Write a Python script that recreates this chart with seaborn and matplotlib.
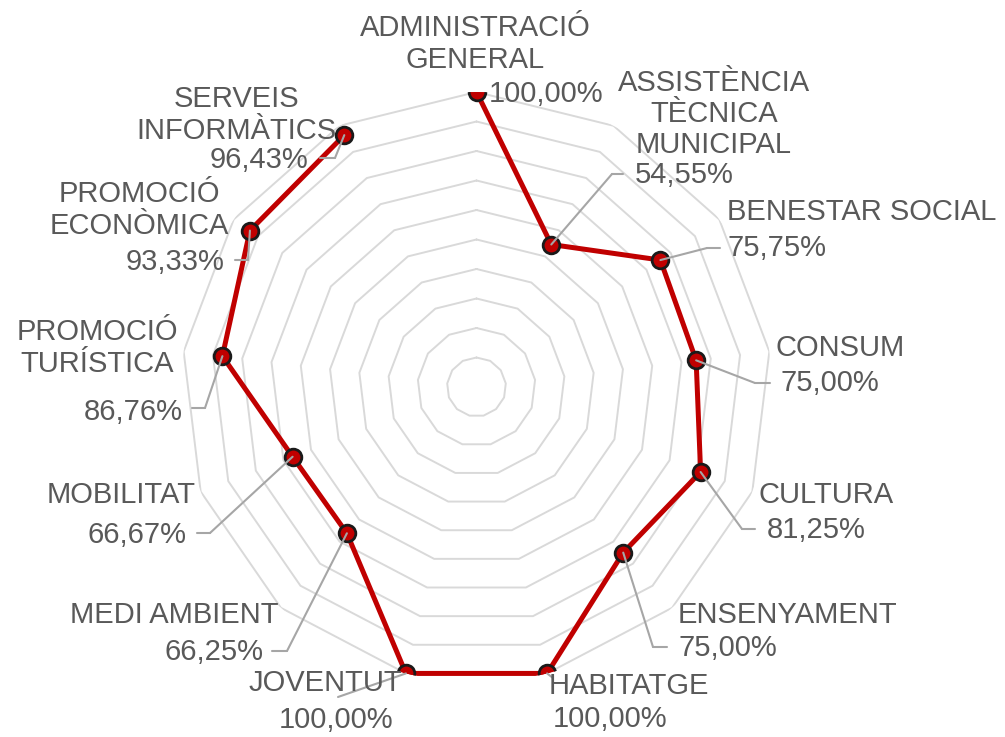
import numpy as np
import pandas as pd
import matplotlib
matplotlib.use('Agg')
import matplotlib.pyplot as plt
from matplotlib.lines import Line2D
import seaborn as sns

sns.set_style('white')
plt.rcParams['font.family'] = ['Liberation Sans', 'DejaVu Sans']

# data
categories = ['ADMINISTRACIÓ\nGENERAL', 'ASSISTÈNCIA\nTÈCNICA\nMUNICIPAL',
              'BENESTAR SOCIAL', 'CONSUM', 'CULTURA', 'ENSENYAMENT',
              'HABITATGE', 'JOVENTUT', 'MEDI AMBIENT', 'MOBILITAT',
              'PROMOCIÓ\nTURÍSTICA', 'PROMOCIÓ\nECONÒMICA', 'SERVEIS\nINFORMÀTICS']
values = [100.00, 54.55, 75.75, 75.00, 81.25, 75.00, 100.00,
          100.00, 66.25, 66.67, 86.76, 93.33, 96.43]
rings = [10, 20, 30, 40, 50, 60, 70, 80, 90, 100]

# label layout in image pixels (x, y from top, ha)
name_pos = [(475, 44, 'center'), (714, 114, 'center'), (727, 212, 'left'),
            (775, 348, 'left'), (758, 495, 'left'), (678, 615, 'left'),
            (549, 686, 'left'), (402, 683, 'right'), (278, 615, 'right'),
            (196, 495, 'right'), (97, 348, 'center'), (139, 210, 'center'),
            (236, 115, 'center')]
value_pos = [(489, 94, 'left'), (635, 175, 'left'), (727, 248, 'left'),
             (780, 383, 'left'), (767, 530, 'left'), (678, 648, 'left'),
             (553, 719, 'left'), (393, 720, 'right'), (263, 652, 'right'),
             (186, 535, 'right'), (183, 412, 'right'), (224, 262, 'right'),
             (308, 160, 'right')]
leaders = [None, ((612, 174), (623, 174)), ((707, 248), (720, 248)),
           ((755, 383), (770, 383)), ((742, 529), (755, 529)),
           ((653, 647), (667, 647)), ((553, 678), (553, 678)),
           ((338, 697), (338, 697)), ((287, 651), (272, 651)),
           ((210, 533), (197, 533)), ((205, 408), (192, 408)),
           ((248, 260), (235, 260)), ((335, 158), (320, 158))]

W, H = 1005, 737
TXT = '#595959'
RED = '#C00000'
LEAD = '#A6A6A6'
FS = 21

n = len(categories)
theta = np.arange(n) * 2 * np.pi / n
df = pd.DataFrame({'theta': np.append(theta, theta[0]),
                   'value': values + values[:1]})

fig = plt.figure(figsize=(W / 100, H / 100), dpi=100)
cx, cy, R = 476.5, 387, 295
ax = fig.add_axes([(cx - R) / W, (H - cy - R) / H, 2 * R / W, 2 * R / H],
                  projection='polar')
ax.set_theta_zero_location('N')
ax.set_theta_direction(-1)
ax.set_ylim(0, 100)
ax.grid(False)
ax.spines['polar'].set_visible(False)
ax.set_xticks([])
ax.set_yticks([])

# polygon gridlines
for r in rings:
    ax.plot(np.append(theta, theta[0]), [r] * (n + 1), color='#D9D9D9',
            lw=1.4, zorder=1)

sns.lineplot(data=df, x='theta', y='value', ax=ax, sort=False, color=RED,
             lw=3.6, marker='o', markersize=12, markerfacecolor=RED,
             markeredgecolor='#1a1a1a', markeredgewidth=2, zorder=3)
ax.set_xlabel('')
ax.set_ylabel('')


def px(p):
    return (p[0], H - p[1])


for i in range(n):
    x, y, ha = name_pos[i]
    fig.text(x / W, (H - y) / H, categories[i], ha=ha, va='center',
             multialignment='center', color=TXT, fontsize=FS, linespacing=1.15)
    x, y, ha = value_pos[i]
    lab = f'{values[i]:.2f}'.replace('.', ',') + '%'
    fig.text(x / W, (H - y) / H, lab, ha=ha, va='center', color=TXT,
             fontsize=FS)
    if leaders[i] is not None:
        elbow, end = leaders[i]
        ax.annotate('', xy=(theta[i], values[i]), xycoords='data',
                    xytext=px(elbow), textcoords='figure pixels',
                    arrowprops=dict(arrowstyle='-', color=LEAD, lw=1.5,
                                    shrinkA=0, shrinkB=0), zorder=5)
        e, f = px(elbow), px(end)
        fig.add_artist(Line2D([e[0], f[0]], [e[1], f[1]], color=LEAD,
                              lw=1.5, transform=None))

fig.savefig('out.png', dpi=100)
